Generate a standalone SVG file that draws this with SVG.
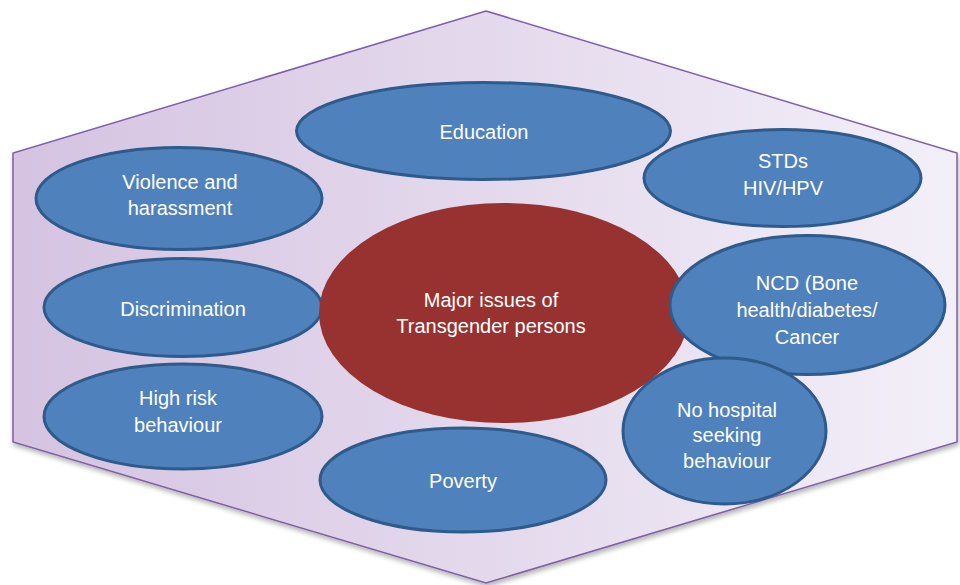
<svg xmlns="http://www.w3.org/2000/svg" width="960" height="585" viewBox="0 0 960 585">
  <defs>
    <linearGradient id="hexFill" x1="0" y1="0" x2="1" y2="0">
      <stop offset="0" stop-color="#d5c3e1"/>
      <stop offset="1" stop-color="#f3eff8"/>
    </linearGradient>
    <filter id="softShadow" x="-5%" y="-5%" width="110%" height="115%">
      <feGaussianBlur in="SourceAlpha" stdDeviation="2.5"/>
      <feOffset dx="1" dy="3" result="b"/>
      <feComponentTransfer><feFuncA type="linear" slope="0.3"/></feComponentTransfer>
      <feMerge><feMergeNode/><feMergeNode in="SourceGraphic"/></feMerge>
    </filter>
  </defs>
  <style>
    .issue { fill: #4f81bd; stroke: #2e5a8c; stroke-width: 3; }
    .core { fill: #983230; }
    .label { font-family: "Liberation Sans", Arial, sans-serif; font-size: 20px; fill: #ffffff; text-anchor: middle; }
  </style>

  <rect width="960" height="585" fill="#ffffff"/>

  <!-- hexagonal backdrop -->
  <g id="backdrop" filter="url(#softShadow)">
    <polygon points="486,11 957,153 957,442 486,583 13,442 13,153" fill="url(#hexFill)" stroke="#7f5fa5" stroke-width="1.5"/>
  </g>

  <g id="education">
    <ellipse class="issue" cx="483.5" cy="131" rx="187" ry="48.5"/>
    <text class="label" x="484" y="139">Education</text>
  </g>

  <g id="stds">
    <ellipse class="issue" cx="782.5" cy="178" rx="138.5" ry="48.5"/>
    <text class="label" x="783" y="168">STDs</text>
    <text class="label" x="783" y="195">HIV/HPV</text>
  </g>

  <g id="violence">
    <ellipse class="issue" cx="179" cy="198.5" rx="143" ry="51"/>
    <text class="label" x="180" y="189">Violence and</text>
    <text class="label" x="180" y="215">harassment</text>
  </g>

  <g id="discrimination">
    <ellipse class="issue" cx="183" cy="307.5" rx="139" ry="49"/>
    <text class="label" x="183" y="316">Discrimination</text>
  </g>

  <g id="high-risk">
    <ellipse class="issue" cx="183" cy="416.5" rx="139" ry="52.5"/>
    <text class="label" x="178" y="405">High risk</text>
    <text class="label" x="178" y="432">behaviour</text>
  </g>

  <g id="core">
    <ellipse class="core" cx="504" cy="313" rx="185" ry="110"/>
    <text class="label" x="491" y="307">Major issues of</text>
    <text class="label" x="491" y="333">Transgender persons</text>
  </g>

  <g id="poverty">
    <ellipse class="issue" cx="463" cy="480" rx="143" ry="52"/>
    <text class="label" x="463" y="488">Poverty</text>
  </g>

  <g id="ncd">
    <ellipse class="issue" cx="807.5" cy="305" rx="137.5" ry="69.5"/>
    <text class="label" x="807" y="290">NCD (Bone</text>
    <text class="label" x="807" y="317">health/diabetes/</text>
    <text class="label" x="807" y="344">Cancer</text>
  </g>

  <g id="no-hospital">
    <ellipse class="issue" cx="724.5" cy="431" rx="101.5" ry="73"/>
    <text class="label" x="727" y="417">No hospital</text>
    <text class="label" x="727" y="442">seeking</text>
    <text class="label" x="727" y="468">behaviour</text>
  </g>
</svg>
